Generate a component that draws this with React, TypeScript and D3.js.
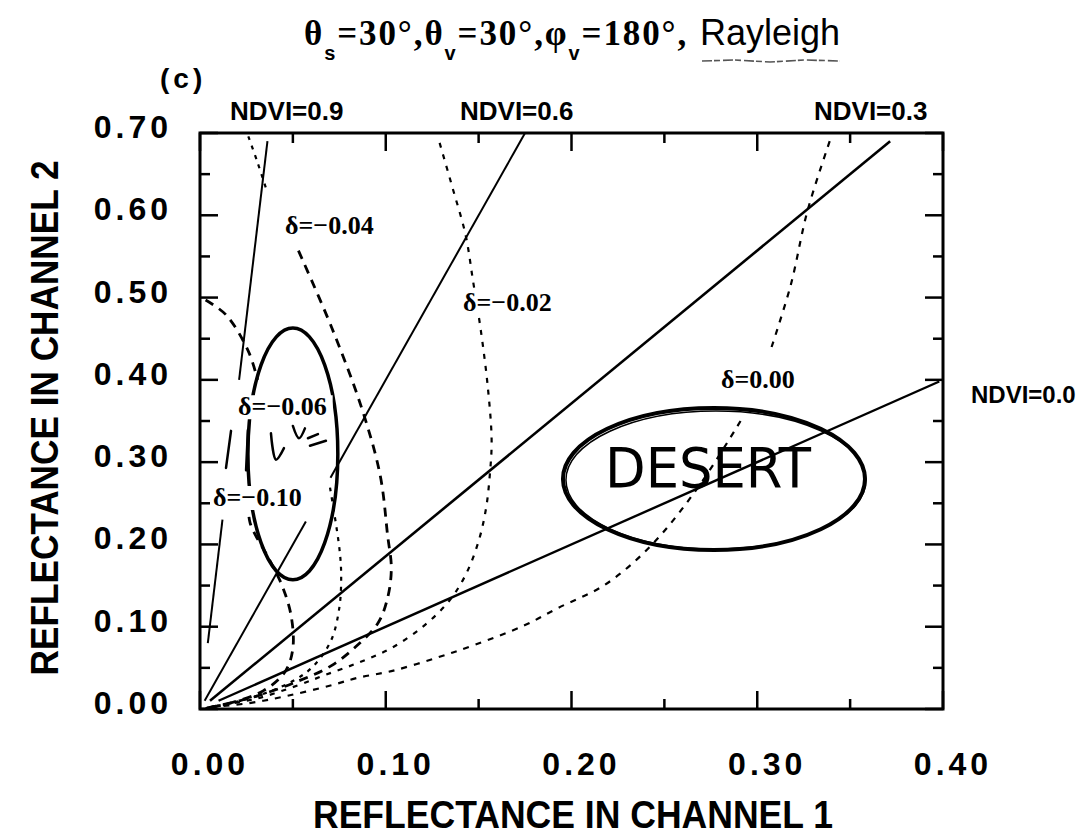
import React from "react";
import * as d3 from "d3";

// ---- data ----------------------------------------------------------------
const xTickValues = [0, 0.1, 0.2, 0.3, 0.4];
const xMinorValues = [0.05, 0.15, 0.25, 0.35];
const yTickValues = [0, 0.1, 0.2, 0.3, 0.4, 0.5, 0.6, 0.7];
const yMinorValues = [0.05, 0.15, 0.25, 0.35, 0.45, 0.55, 0.65];
const xTickLabels = ["0.00", "0.10", "0.20", "0.30", "0.40"];
const yTickLabels = ["0.00", "0.10", "0.20", "0.30", "0.40", "0.50", "0.60", "0.70"];

// NDVI iso-lines through the origin: rho2 = rho1 * (1 + N) / (1 - N)
const ndviValues = [0.9, 0.6, 0.3, 0.0];
// visible rho2 spans of each line (broken where annotations sit on top)
const ndviSpans: number[][][] = [
  [[0.08, 0.23], [0.4, 0.69]],
  [[0.01, 0.228], [0.281, 0.7]],
  [[0.01, 0.69]],
  [[0.01, 0.398]],
];
const ndviWidths = [2, 2, 2.6, 2.4];

type Pt = [number, number] | null;

// iso-delta curves (rho1, rho2); null marks a gap
const deltaZero: Pt[] = [
  [0.339, 0.69], [0.327, 0.605], [0.318, 0.515], [0.307, 0.435], null,
  [0.291, 0.35], [0.268, 0.269], [0.243, 0.199], [0.218, 0.151], [0.193, 0.123],
  [0.175, 0.102], [0.148, 0.078], [0.127, 0.062], [0.103, 0.046], [0.085, 0.038],
  [0.071, 0.029], [0.047, 0.016], [0.026, 0.007], [0.004, 0.002],
];
const deltaM02: Pt[] = [
  [0.129, 0.688], [0.136, 0.633], [0.143, 0.576], [0.147, 0.52], [0.151, 0.463],
  [0.155, 0.39], [0.157, 0.326], [0.156, 0.284], [0.154, 0.244], [0.15, 0.204],
  [0.143, 0.163], [0.134, 0.131], [0.121, 0.102], [0.103, 0.074], [0.085, 0.056],
  [0.067, 0.041], [0.053, 0.029], [0.031, 0.013], [0.01, 0.004], [0.003, 0.001],
];
const deltaM04: Pt[] = [
  [0.053, 0.557], [0.071, 0.463], [0.087, 0.366], [0.097, 0.284], [0.101, 0.211],
  [0.103, 0.171], [0.101, 0.135], [0.096, 0.105], [0.085, 0.078], [0.071, 0.053],
  [0.053, 0.034], [0.031, 0.016], [0.012, 0.005], [0.003, 0.001],
];
const deltaM06: Pt[] = [
  [0.026, 0.696], [0.031, 0.664], [0.0355, 0.633], null,
  [0.07, 0.269], [0.075, 0.196], [0.076, 0.163], [0.075, 0.123], [0.0705, 0.083],
  [0.061, 0.052], [0.05, 0.034], [0.031, 0.016], [0.012, 0.005], [0.003, 0.001],
];
const deltaM10: Pt[] = [
  [0.003, 0.497], [0.014, 0.479], [0.026, 0.435], [0.031, 0.4], null,
  [0.026, 0.253], [0.027, 0.226], [0.037, 0.183], [0.044, 0.151], [0.049, 0.114],
  [0.05, 0.074], [0.046, 0.046], [0.034, 0.022], [0.016, 0.007], [0.003, 0.001],
];

const deltaCurves = [deltaZero, deltaM02, deltaM04, deltaM06, deltaM10];
const deltaDash = ["6 7", "5 7", "9 7", "4 6", "9 7"];
const deltaWidth = [2.2, 2.2, 2.8, 2.2, 2.8];

// delta labels: text and anchor (rho1 of left edge, rho2 of baseline)
const deltaLabels = ["δ=0.00", "δ=−0.02", "δ=−0.04", "δ=−0.06", "δ=−0.10"];
const deltaLabelAt: [number, number][] = [
  [0.2805, 0.39], [0.1416, 0.4837], [0.0458, 0.577], [0.0205, 0.357], [0.007, 0.2467],
];

const ndviLabels = ["NDVI=0.9", "NDVI=0.6", "NDVI=0.3", "NDVI=0.0"];

// hand-drawn annotations: ellipse centre and radii in reflectance units
const vegEllipse = { c1: 0.05, c2: 0.31, r1: 0.0242, r2: 0.153 };
const desertEllipse = { c1: 0.2767, c2: 0.2795, r1: 0.0813, r2: 0.0863 };
const scribbles: [number, number][][] = [
  [[0.0167, 0.338], [0.014, 0.293]],
  [[0.0258, 0.339], [0.0248, 0.29]],
  [[0.0382, 0.335], [0.0409, 0.303], [0.0452, 0.317]],
  [[0.05, 0.344], [0.0533, 0.329], [0.0565, 0.341]],
  [[0.0581, 0.329], [0.0635, 0.334]],
  [[0.0592, 0.32], [0.0678, 0.326]],
];

// ---- layout ---------------------------------------------------------------
const W = 1090;
const H = 836;
const frame = { left: 192, right: 935, top: 125, bottom: 701 };

export default function App() {
  const x = d3.scaleLinear().domain([0, 0.4]).range([frame.left, frame.right]);
  const y = d3.scaleLinear().domain([0, 0.7]).range([frame.bottom, frame.top]);

  const curve = d3
    .line<Pt>()
    .defined((d) => d !== null)
    .x((d) => x((d as [number, number])[0]))
    .y((d) => y((d as [number, number])[1]))
    .curve(d3.curveCatmullRom.alpha(0.5));

  const plain = d3
    .line<[number, number]>()
    .x((d) => x(d[0]))
    .y((d) => y(d[1]))
    .curve(d3.curveCatmullRom.alpha(0.5));

  const sans = "'Liberation Sans', Arial, Helvetica, sans-serif";
  const serif = "'Liberation Serif', 'Times New Roman', serif";

  const major = 18;
  const minor = 10;

  const ell = (e: { c1: number; c2: number; r1: number; r2: number }) => ({
    cx: x(e.c1),
    cy: y(e.c2),
    rx: x(e.c1 + e.r1) - x(e.c1),
    ry: y(e.c2) - y(e.c2 + e.r2),
  });
  const ve = ell(vegEllipse);
  const de = ell(desertEllipse);

  const titleEnd = 832;

  return (
    <svg width={W} height={H} viewBox={`0 0 ${W} ${H}`} style={{ display: "block", background: "#fff" }}>
      <rect x={0} y={0} width={W} height={H} fill="#fff" />

      {/* title */}
      <text x={296} y={37} fontFamily={serif} fontWeight="bold" fontSize={35} letterSpacing={1.9} fill="#000">
        <tspan>θ</tspan>
        <tspan dy={15} fontSize={20} fontFamily={sans}>s</tspan>
        <tspan dy={-15}>=30°,θ</tspan>
        <tspan dy={15} fontSize={20} fontFamily={sans}>v</tspan>
        <tspan dy={-15}>=30°,φ</tspan>
        <tspan dy={15} fontSize={20} fontFamily={sans}>v</tspan>
        <tspan dy={-15}>=180°,</tspan>
      </text>
      <text x={titleEnd} y={37} textAnchor="end" fontFamily={sans} fontSize={36} fill="#000">Rayleigh</text>
      <path
        d={`M${titleEnd - 138},53 L${titleEnd - 105},52 L${titleEnd - 70},54 L${titleEnd - 35},52 L${titleEnd},53`}
        fill="none"
        stroke="#555"
        strokeWidth={1.6}
        strokeDasharray="10 2 6 3"
      />

      <text x={152} y={80} fontFamily={sans} fontWeight="bold" fontSize={28} letterSpacing={4}>(c)</text>

      {/* NDVI labels */}
      {ndviLabels.slice(0, 3).map((t, i) => (
        <text key={t} x={[222, 452, 806][i]} y={112} fontFamily={sans} fontWeight="bold" fontSize={26}>{t}</text>
      ))}
      <text x={963} y={395} fontFamily={sans} fontWeight="bold" fontSize={24}>{ndviLabels[3]}</text>

      {/* NDVI lines */}
      {ndviValues.map((n, i) => {
        const k = (1 + n) / (1 - n);
        return ndviSpans[i].map((s, j) => (
          <line
            key={`${i}-${j}`}
            x1={x(s[0] / k)}
            y1={y(s[0])}
            x2={x(s[1] / k)}
            y2={y(s[1])}
            stroke="#000"
            strokeWidth={ndviWidths[i]}
          />
        ));
      })}

      {/* iso-delta curves */}
      {deltaCurves.map((c, i) => (
        <path
          key={i}
          d={curve(c) || ""}
          fill="none"
          stroke="#000"
          strokeWidth={deltaWidth[i]}
          strokeDasharray={deltaDash[i]}
        />
      ))}

      {/* hand-drawn annotations */}
      <ellipse cx={ve.cx} cy={ve.cy} rx={ve.rx} ry={ve.ry} fill="none" stroke="#000" strokeWidth={3.5} />
      <ellipse cx={de.cx} cy={de.cy} rx={de.rx} ry={de.ry} fill="none" stroke="#000" strokeWidth={4} />
      <ellipse cx={de.cx + 2} cy={de.cy + 1} rx={de.rx - 1} ry={de.ry - 2} fill="none" stroke="#000" strokeWidth={1.5} />
      {scribbles.map((s, i) => (
        <path key={i} d={plain(s) || ""} fill="none" stroke="#000" strokeWidth={2.5} strokeLinecap="round" />
      ))}
      <text
        x={de.cx - 6}
        y={de.cy + 8}
        textAnchor="middle"
        fontFamily="'DejaVu Sans', sans-serif"
        fontSize={56}
        textLength={206}
        lengthAdjust="spacingAndGlyphs"
        fill="#000"
      >
        DESERT
      </text>

      {/* delta labels */}
      {deltaLabels.map((t, i) => {
        const [a, b] = deltaLabelAt[i];
        return (
          <g key={t}>
            <rect x={x(a) - 2} y={y(b) - 20} width={t.length * 13.8} height={24} fill="#fff" />
            <text x={x(a)} y={y(b)} fontFamily={serif} fontWeight="bold" fontSize={26}>{t}</text>
          </g>
        );
      })}

      {/* frame */}
      <rect
        x={frame.left}
        y={frame.top}
        width={frame.right - frame.left}
        height={frame.bottom - frame.top}
        fill="none"
        stroke="#000"
        strokeWidth={3}
      />

      {/* ticks */}
      {xTickValues.concat(xMinorValues).map((v, i) => {
        const len = i < xTickValues.length ? major : minor;
        return (
          <g key={`xt${i}`}>
            <line x1={x(v)} x2={x(v)} y1={frame.bottom} y2={frame.bottom - len} stroke="#000" strokeWidth={2.5} />
            <line x1={x(v)} x2={x(v)} y1={frame.top} y2={frame.top + len} stroke="#000" strokeWidth={2.5} />
          </g>
        );
      })}
      {yTickValues.concat(yMinorValues).map((v, i) => {
        const len = i < yTickValues.length ? major : minor;
        return (
          <g key={`yt${i}`}>
            <line x1={frame.left} x2={frame.left + len} y1={y(v)} y2={y(v)} stroke="#000" strokeWidth={2.5} />
            <line x1={frame.right} x2={frame.right - len} y1={y(v)} y2={y(v)} stroke="#000" strokeWidth={2.5} />
          </g>
        );
      })}

      {/* tick labels */}
      {xTickValues.map((v, i) => (
        <text key={`xl${i}`} x={x(v) + 10} y={767} textAnchor="middle" fontFamily={sans} fontWeight="bold" fontSize={32} letterSpacing={4}>
          {xTickLabels[i]}
        </text>
      ))}
      {yTickValues.map((v, i) => (
        <text key={`yl${i}`} x={164} y={y(v) + 5} textAnchor="end" fontFamily={sans} fontWeight="bold" fontSize={32} letterSpacing={4}>
          {yTickLabels[i]}
        </text>
      ))}

      {/* axis titles */}
      <text
        x={565}
        y={820}
        textAnchor="middle"
        fontFamily={sans}
        fontWeight="bold"
        fontSize={38}
        textLength={520}
        lengthAdjust="spacingAndGlyphs"
      >
        REFLECTANCE IN CHANNEL 1
      </text>
      <text
        transform="translate(50,410) rotate(-90)"
        textAnchor="middle"
        fontFamily={sans}
        fontWeight="bold"
        fontSize={38}
        textLength={515}
        lengthAdjust="spacingAndGlyphs"
      >
        REFLECTANCE IN CHANNEL 2
      </text>
    </svg>
  );
}
